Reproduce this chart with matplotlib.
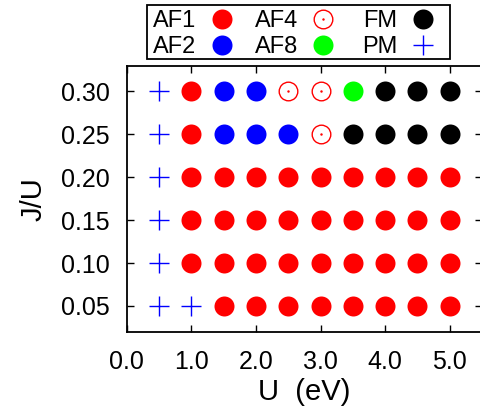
import matplotlib
matplotlib.use("Agg")
import matplotlib.pyplot as plt
from matplotlib.lines import Line2D
from matplotlib.patches import Rectangle

plt.rcParams['font.family'] = ['Liberation Sans', 'DejaVu Sans']

# ---- data ----
U_values = [0.5, 1.0, 1.5, 2.0, 2.5, 3.0, 3.5, 4.0, 4.5, 5.0]
JU_values = [0.30, 0.25, 0.20, 0.15, 0.10, 0.05]
phase_rows = [
    ["PM", "AF1", "AF2", "AF2", "AF4", "AF4", "AF8", "FM", "FM", "FM"],
    ["PM", "AF1", "AF2", "AF2", "AF2", "AF4", "FM", "FM", "FM", "FM"],
    ["PM", "AF1", "AF1", "AF1", "AF1", "AF1", "AF1", "AF1", "AF1", "AF1"],
    ["PM", "AF1", "AF1", "AF1", "AF1", "AF1", "AF1", "AF1", "AF1", "AF1"],
    ["PM", "AF1", "AF1", "AF1", "AF1", "AF1", "AF1", "AF1", "AF1", "AF1"],
    ["PM", "PM", "AF1", "AF1", "AF1", "AF1", "AF1", "AF1", "AF1", "AF1"],
]
x_ticks = [0.0, 1.0, 2.0, 3.0, 4.0, 5.0]
x_ticklabels = ["0.0", "1.0", "2.0", "3.0", "4.0", "5.0"]
y_ticks = [0.05, 0.10, 0.15, 0.20, 0.25, 0.30]
y_ticklabels = ["0.05", "0.10", "0.15", "0.20", "0.25", "0.30"]

MS = 14.4
styles = {
    "AF1": dict(marker='o', color='#ff0000', ms=MS, mew=0, ls='none'),
    "AF2": dict(marker='o', color='#0000ff', ms=MS, mew=0, ls='none'),
    "AF8": dict(marker='o', color='#00ff00', ms=MS, mew=0, ls='none'),
    "FM": dict(marker='o', color='#000000', ms=MS, mew=0, ls='none'),
    "AF4": dict(marker='o', mfc='none', mec='#ff0000', ms=MS - 1, mew=1.0, ls='none'),
    "PM": dict(marker='+', color='#0000ff', ms=MS, mew=1.0, ls='none'),
}

W, H = 480, 409
fig = plt.figure(figsize=(W / 100, H / 100), dpi=100)
L, R, T, B = 126.7, 482.0, 65.7, 331.7
ax = fig.add_axes([L / W, 1 - B / H, (R - L) / W, (B - T) / H])

for jv, row in zip(JU_values, phase_rows):
    for uv, ph in zip(U_values, row):
        ax.plot([uv], [jv], **styles[ph], clip_on=False)
        if ph == "AF4":
            ax.plot([uv], [jv], marker='.', color='#ff0000', ms=1.5, ls='none')

ax.set_xlim(0.0, 5.5)
ax.set_ylim(0.02, 0.33)
ax.set_xticks(x_ticks)
ax.set_xticklabels(x_ticklabels)
ax.set_yticks(y_ticks)
ax.set_yticklabels(y_ticklabels)
ax.tick_params(direction='in', length=5, width=1, top=True, right=True,
               labelsize=18, pad=12)
ax.tick_params(axis='x', pad=13)
for s in ax.spines.values():
    s.set_linewidth(1.3)
ax.set_xlabel("U  (eV)", fontsize=21, labelpad=3)
ax.set_ylabel("J/U", fontsize=21, labelpad=10)


def fx(x):
    return x / W


def fy(y):
    return 1 - y / H


# legend box
fig.add_artist(Rectangle((fx(146.7), fy(59.3)), (450 - 146.7) / W, (59.3 - 5) / H,
                         transform=fig.transFigure, fill=False, lw=1.3, ec='black'))
legend_items = [
    ("AF1", 153, 222, 19, 'left'), ("AF2", 153, 222, 45, 'left'),
    ("AF4", 255, 323, 19, 'left'), ("AF8", 255, 323, 45, 'left'),
    ("FM", 397, 423, 19, 'right'), ("PM", 397, 423, 45, 'right'),
]
for name, tx, mx, cy, ha in legend_items:
    fig.text(fx(tx), fy(cy + 7.8), name, fontsize=17, ha=ha, va='baseline')
    st = dict(styles[name])
    fig.add_artist(Line2D([fx(mx)], [fy(cy)], transform=fig.transFigure, **st))
    if name == "AF4":
        fig.add_artist(Line2D([fx(mx)], [fy(cy)], transform=fig.transFigure,
                              marker='.', color='#ff0000', ms=1.5, ls='none'))

fig.savefig("out.png", dpi=100)
